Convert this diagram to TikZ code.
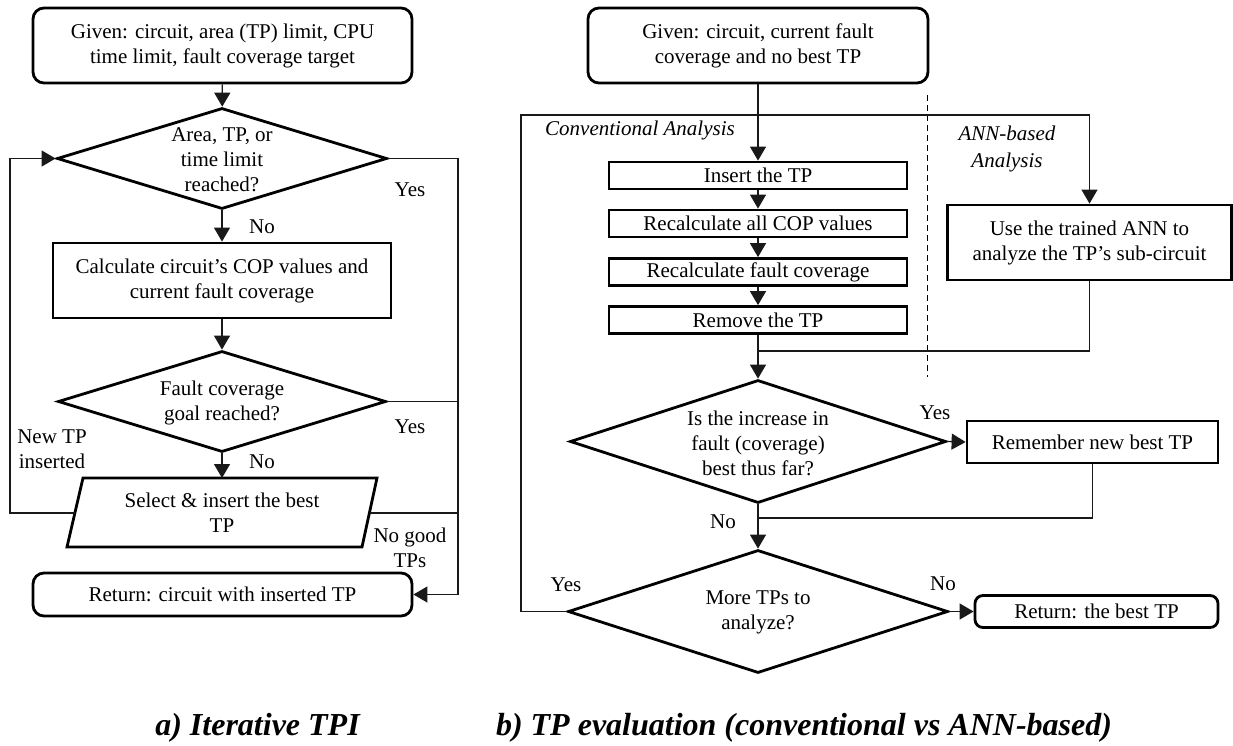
\documentclass[tikz,border=0pt]{standalone}
\usepackage{fontspec}
\setmainfont{Liberation Serif}
\usetikzlibrary{shapes.geometric,arrows.meta}

\begin{document}
\begin{tikzpicture}[x=1pt,y=-1pt,
  every node/.style={font=\fontsize{21}{25}\selectfont, inner sep=0pt},
  term/.style={draw, line width=2.8pt, rounded corners=11pt, align=center},
  proc/.style={draw, line width=2.8pt, align=center},
  dia/.style={draw, diamond, line width=2.8pt, inner sep=0pt},
  lbl/.style={align=center},
  conn/.style={line width=1.3pt, draw=black!90},
  arr/.style={conn, -{Triangle[length=14pt,width=16pt]}},
  areanote/.style={font=\fontsize{21}{27}\selectfont\itshape, align=center},
  captxt/.style={font=\fontsize{32}{36}\selectfont\bfseries\itshape, anchor=base}
]
\useasboundingbox (0,0) rectangle (1233,745);

% ---------------- a) Iterative TPI ----------------
\node[term, minimum width=379pt, minimum height=75pt] (start) at (222.5,45.5)
  {Given: circuit, area (TP) limit, CPU\\time limit, fault coverage target};
\node[dia, minimum width=330pt, minimum height=101pt] (d1) at (222,158.5) {};
\node[lbl] (d1t) at (222,160) {Area, TP, or\\time limit\\reached?};
\node[proc, minimum width=338pt, minimum height=75pt] (calc) at (222,280.5)
  {Calculate circuit’s COP values and\\current fault coverage};
\node[dia, minimum width=328pt, minimum height=101pt] (d2) at (222,401.5) {};
\node[lbl] (d2t) at (222,402.5) {Fault coverage\\goal reached?};
\node[lbl] (sel) at (222,512.5) {Select \& insert the best\\TP};
\draw[line width=2.8pt, line join=miter] (67,547) -- (83,478) -- (377,478) -- (362,547) -- cycle;
\coordinate (selT) at (222,478);
\coordinate (selL) at (75,513);
\coordinate (selR) at (369.5,513);
\node[term, minimum width=379pt, minimum height=43pt] (ret) at (222.5,594.5)
  {Return: circuit with inserted TP};

\coordinate (lbus) at (10,513);
\coordinate (rbus) at (458,594.5);

\draw[arr] (start) -- (d1);
\draw[arr] (d1) -- (calc);
\draw[arr] (calc) -- (d2);
\draw[arr] (d2) -- (selT);
\draw[arr] (selL) -- (lbus) |- (d1.west);
\draw[conn] (d1.east) -| (rbus);
\draw[conn] (d2.east) -- (d2.east -| rbus);
\draw[conn] (selR) -- (selR -| rbus);
\draw[arr] (rbus) -- (ret.east);

\node (no1) at (262,227) {No};
\node (no2) at (262,462) {No};
\node (yes1) at (410,190) {Yes};
\node (yes2) at (410,427) {Yes};
\node[lbl] (newtp) at (52,449.5) {New TP\\inserted};
\node[lbl] (nogood) at (410,547.5) {No good\\TPs};

% ---------------- b) TP evaluation ----------------
\node[term, minimum width=340pt, minimum height=75pt] (start2) at (758,45.5)
  {Given: circuit, current fault\\coverage and no best TP};
\node[proc, minimum width=298pt, minimum height=27pt] (ins) at (758,175.5) {Insert the TP};
\node[proc, minimum width=298pt, minimum height=27pt] (cop) at (758,223.5) {Recalculate all COP values};
\node[proc, minimum width=298pt, minimum height=27pt] (fc) at (758,272) {Recalculate fault coverage};
\node[proc, minimum width=298pt, minimum height=27pt] (rem) at (758,320) {Remove the TP};
\node[proc, minimum width=284pt, minimum height=75pt] (ann) at (1089.5,242.5)
  {Use the trained ANN to\\analyze the TP’s sub-circuit};
\node[dia, minimum width=376pt, minimum height=123pt] (d3) at (758,441.5) {};
\node[lbl] (d3t) at (758,443) {Is the increase in\\fault (coverage)\\best thus far?};
\node[proc, minimum width=251pt, minimum height=42pt] (mem) at (1092.5,442) {Remember new best TP};
\node[dia, minimum width=380pt, minimum height=123pt] (d4) at (758,611.5) {};
\node[lbl] (d4t) at (758,612) {More TPs to\\analyze?};
\node[term, rounded corners=8pt, minimum width=243pt, minimum height=32pt] (ret2) at (1096.5,611.5)
  {Return: the best TP};

\coordinate (tl) at (521,115);
\coordinate (j1) at (758,351);
\coordinate (j2) at (758,518);

% separator between the two kinds of analysis
\draw[line width=1pt, dash pattern=on 6pt off 4pt] (927,95) -- (927,377);

\draw[arr] (start2) -- (ins);
\draw[arr] (ins) -- (cop);
\draw[arr] (cop) -- (fc);
\draw[arr] (fc) -- (rem);
\draw[arr] (rem) -- (d3);
\draw[conn] (ann.south) |- (j1);
\draw[arr] (d3.east) -- (mem.west);
\draw[conn] (mem.south) |- (j2);
\draw[arr] (d3) -- (d4);
\draw[arr] (d4.east) -- (ret2.west);
\draw[arr] (d4.west) -| (tl) -| (ann.north);

\node[areanote, anchor=west] (conv) at (545,130) {Conventional Analysis};
\node[areanote] (annlbl) at (1007,148.5) {ANN-based\\Analysis};
\node (yes3) at (935,413) {Yes};
\node (no3) at (723,522) {No};
\node (yes4) at (566,585) {Yes};
\node (no4) at (943,584) {No};

% ---------------- captions ----------------
\node[captxt] (capa) at (257.5,735) {a) Iterative TPI};
\node[captxt] (capb) at (804,735) {b) TP evaluation (conventional vs ANN-based)};
\end{tikzpicture}
\end{document}
